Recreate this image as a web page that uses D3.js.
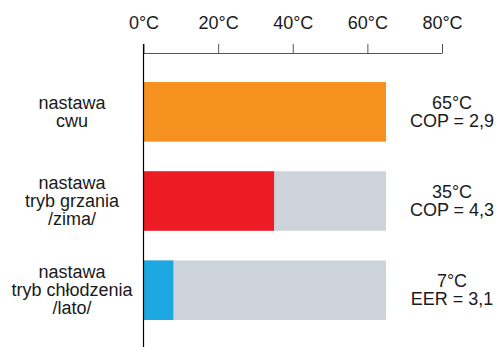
<!DOCTYPE html>
<html>
<head>
<meta charset="utf-8">
<script src="https://cdn.jsdelivr.net/npm/d3@7"></script>
<style>
  body { margin: 0; background: #fff; }
  svg { display: block; font-family: "Liberation Sans", Arial, sans-serif; }
</style>
</head>
<body>
<div id="chart"></div>
<script>
  // data
  const categories = [
    ["nastawa", "cwu"],
    ["nastawa", "tryb grzania", "/zima/"],
    ["nastawa", "tryb chłodzenia", "/lato/"]
  ];
  const values = [65, 35, 8];
  const maxValues = [65, 65, 65];
  const valueLabels = [
    ["65°C", "COP = 2,9"],
    ["35°C", "COP = 4,3"],
    ["7°C", "EER = 3,1"]
  ];
  const tickValues = [0, 20, 40, 60, 80];
  const barColours = ["#f5921f", "#ed1c24", "#1ca7e0"];
  const backColour = "#cdd3da";

  const width = 496;
  const height = 347;
  const axisY = 53;
  const lineH = 18;

  const svg = d3.select("#chart").append("svg")
    .attr("width", width)
    .attr("height", height);

  const x = d3.scaleLinear().domain([0, 80]).range([143.5, 442]);
  const y = d3.scaleBand()
    .domain(d3.range(values.length))
    .range([60, 342])
    .paddingInner(0.333)
    .paddingOuter(0.247);

  // background (max) bars
  svg.selectAll("rect.back")
    .data(maxValues)
    .join("rect")
    .attr("class", "back")
    .attr("x", x(0))
    .attr("y", (d, i) => y(i))
    .attr("width", (d) => x(d) - x(0))
    .attr("height", y.bandwidth())
    .attr("fill", backColour);

  svg.selectAll("rect.bar")
    .data(values)
    .join("rect")
    .attr("class", "bar")
    .attr("x", x(0))
    .attr("y", (d, i) => y(i))
    .attr("width", (d) => x(d) - x(0))
    .attr("height", y.bandwidth())
    .attr("fill", (d, i) => barColours[i]);

  // top axis
  const axis = svg.append("g")
    .attr("transform", `translate(0,${axisY})`)
    .call(d3.axisTop(x)
      .tickValues(tickValues)
      .tickFormat((d) => d + "°C")
      .tickSize(9)
      .tickSizeOuter(0)
      .tickPadding(15));
  axis.select(".domain").attr("stroke", "#555");
  axis.selectAll(".tick line").attr("stroke", "#555");
  axis.selectAll(".tick text")
    .attr("font-size", 18)
    .attr("fill", "#1a1a1a")
    .attr("font-family", "Liberation Sans, Arial, sans-serif");

  // vertical baseline
  svg.append("line")
    .attr("x1", x(0)).attr("x2", x(0))
    .attr("y1", axisY - 9).attr("y2", height)
    .attr("stroke", "#000")
    .attr("stroke-width", 1.2);

  function multiline(sel, lines, cx, cy) {
    const n = lines.length;
    const t = sel.append("text")
      .attr("text-anchor", "middle")
      .attr("font-size", 18)
      .attr("fill", "#1a1a1a");
    lines.forEach((s, k) => {
      t.append("tspan")
        .attr("x", cx)
        .attr("y", cy + 6 + (k - (n - 1) / 2) * lineH)
        .text(s);
    });
  }

  categories.forEach((lines, i) => {
    multiline(svg, lines, 72, y(i) + y.bandwidth() / 2);
  });
  valueLabels.forEach((lines, i) => {
    multiline(svg, lines, 452, y(i) + y.bandwidth() / 2);
  });
</script>
</body>
</html>
